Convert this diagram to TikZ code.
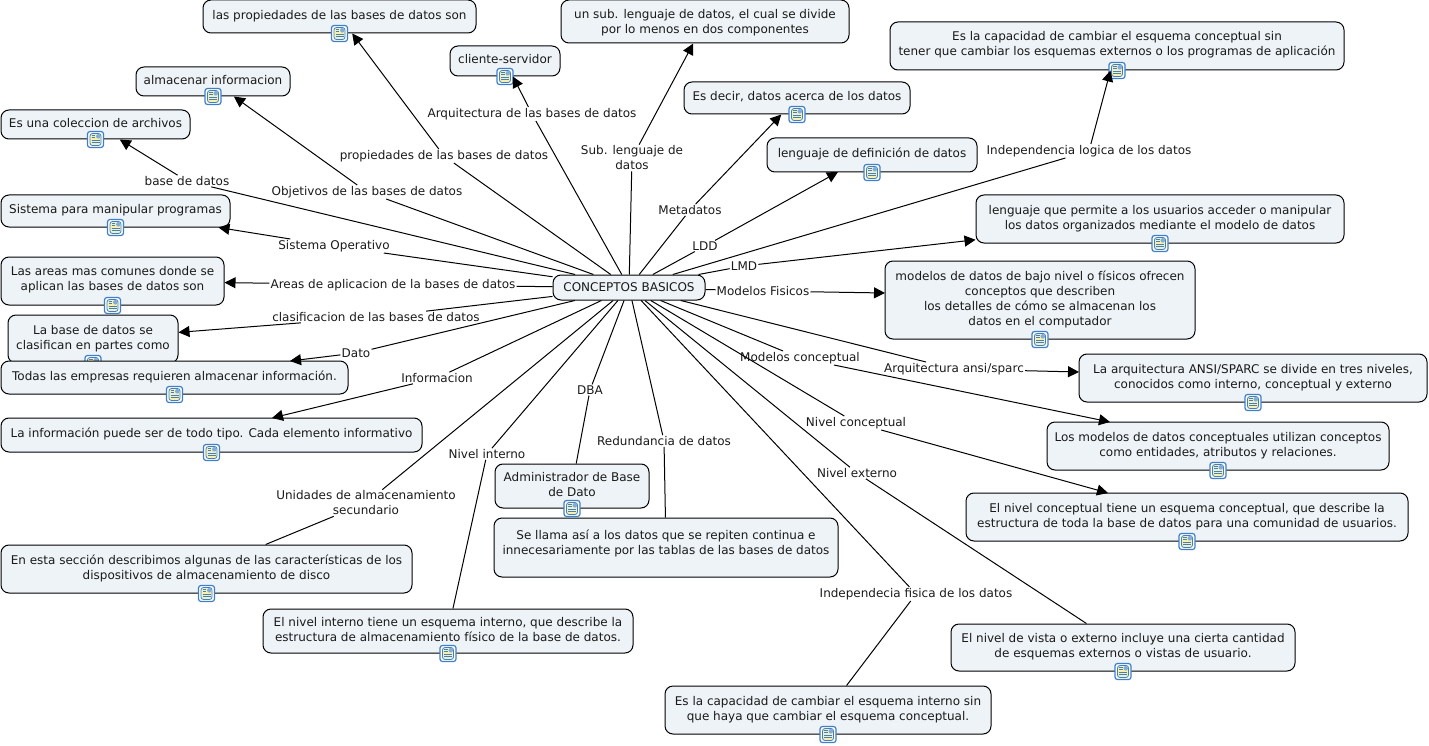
\documentclass[tikz,border=0pt]{standalone}
\usepackage{fontspec}
\setmainfont{DejaVu Sans}
\usetikzlibrary{arrows.meta}

\definecolor{boxfill}{HTML}{EDF3F6}
\definecolor{iconblue}{HTML}{3F7FC8}
\definecolor{iconyellow}{HTML}{F6F0B4}
\definecolor{inktext}{HTML}{1A1A1A}

\newcommand{\boxtext}[2][1pt]{\vbox{\hbox{\begin{tabular}{@{}c@{}}#2\end{tabular}}\kern#1}}
\newcommand{\noteicon}[1]{\node[iconbox] (#1icon) at (#1.south) {};}

\tikzset{
	conceptbox/.style 2 args={draw=black, fill=boxfill, rounded corners=8pt, line width=1pt, inner sep=0pt,
		minimum width=#1, minimum height=#2, text=inktext, font=\fontsize{12}{15}\selectfont},
	linklabel/.style={inner sep=1pt, align=center, text=inktext, font=\fontsize{12}{15}\selectfont},
	linkline/.style={line width=1pt},
	linkarrow/.style={line width=1pt, -{Triangle[length=11pt,width=11pt]}},
	iconbox/.style={draw=iconblue, fill=white, rounded corners=2.5pt, line width=1.2pt, minimum size=16pt, inner sep=0pt,
		path picture={
			\begin{scope}[shift={(path picture bounding box.center)}]
				\draw[fill=iconyellow, line width=0.8pt] (-5.5,-6) rectangle (5.5,6);
				\fill[iconblue!65] (0.5,-5.6) rectangle (5.1,-0.8);
				\draw[line width=1pt] (-4,-4) -- (-0.5,-4) (-4,-1.6) -- (-0.5,-1.6) (-4,0.8) -- (4,0.8) (-4,3.2) -- (4,3.2);
			\end{scope}
		}},
}

\begin{document}
\begin{tikzpicture}[x=1pt, y=-1pt]
	\useasboundingbox (0,0) rectangle (1429,746);
	\begin{scope}
		\node[conceptbox={152}{25}] (centro) at (629,287.5) {\boxtext[-1pt]{CONCEPTOS BASICOS}};

		% columna izquierda
		\node[conceptbox={273}{33}] (propiedades) at (339.5,16.5) {\boxtext[0pt]{las propiedades de las bases de datos son}};
		\node[conceptbox={110}{30}] (cliente) at (505,61) {\boxtext[0pt]{cliente-servidor}};
		\node[conceptbox={154}{29}] (almacenar) at (213,81.5) {\boxtext[0pt]{almacenar informacion}};
		\node[conceptbox={189}{29}] (coleccion) at (95.5,124.5) {\boxtext[0pt]{Es una coleccion de archivos}};
		\node[conceptbox={229}{32}] (sistema) at (115.5,211) {\boxtext{Sistema para manipular programas}};
		\node[conceptbox={223}{48}] (areas) at (112.5,281) {\boxtext[2pt]{Las areas mas comunes donde se\\aplican las bases de datos son}};
		\node[conceptbox={170}{48}] (partes) at (93,339) {\boxtext{La base de datos se\\clasifican en partes como}};
		\noteicon{partes}
		\node[conceptbox={347}{33}] (empresas) at (174.5,377.5) {\boxtext{Todas las empresas requieren almacenar información.}};
		\node[conceptbox={421}{34}] (tipo) at (211.5,435) {\boxtext[2pt]{La información puede ser de todo tipo. Cada elemento informativo}};
		\node[conceptbox={411}{48}] (disco) at (206.5,569) {\boxtext{En esta sección describimos algunas de las características de los\\dispositivos de almacenamiento de disco}};

		% parte central
		\node[conceptbox={288}{43}] (sublenguaje) at (705,21.5) {\boxtext[-2.5pt]{un sub. lenguaje de datos, el cual se divide\\por lo menos en dos componentes}};
		\node[conceptbox={154}{44}] (admin) at (572,486) {\boxtext[0pt]{Administrador de Base\\de Dato}};
		\node[conceptbox={344}{59}] (repetidos) at (666,547.5) {\boxtext[7pt]{Se llama así a los datos que se repiten continua e\\innecesariamente por las tablas de las bases de datos}};
		\node[conceptbox={370}{44}] (interno) at (448,631) {\boxtext[0pt]{El nivel interno tiene un esquema interno, que describe la\\estructura de almacenamiento físico de la base de datos.}};
		\node[conceptbox={326}{48}] (fisica) at (828,710) {\boxtext{Es la capacidad de cambiar el esquema interno sin\\que haya que cambiar el esquema conceptual.}};

		% columna derecha
		\node[conceptbox={226}{32}] (acerca) at (797,98) {\boxtext{Es decir, datos acerca de los datos}};
		\node[conceptbox={210}{34}] (definicion) at (872,155) {\boxtext[0pt]{lenguaje de definición de datos~}};
		\node[conceptbox={454}{48}] (logica) at (1117,46) {\boxtext[2pt]{Es la capacidad de cambiar el esquema conceptual sin\\tener que cambiar los esquemas externos o los programas de aplicación}};
		\node[conceptbox={368}{48}] (manipular) at (1160,219) {\boxtext{lenguaje que permite a los usuarios acceder o manipular\\los datos organizados mediante el modelo de datos}};
		\node[conceptbox={310}{78}] (bajonivel) at (1040,300) {\boxtext[0pt]{modelos de datos de bajo nivel o físicos ofrecen\\conceptos que describen\\los detalles de cómo se almacenan los\\datos en el computador}};
		\node[conceptbox={348}{48}] (niveles) at (1253,378) {\boxtext{La arquitectura ANSI/SPARC se divide en tres niveles,\\conocidos como interno, conceptual y externo}};
		\node[conceptbox={342}{48}] (entidades) at (1218,446) {\boxtext{Los modelos de datos conceptuales utilizan conceptos\\como entidades, atributos y relaciones.}};
		\node[conceptbox={442}{48}] (comunidad) at (1187,517) {\boxtext[0pt]{El nivel conceptual tiene un esquema conceptual, que describe la\\estructura de toda la base de datos para una comunidad de usuarios.}};
		\node[conceptbox={344}{47}] (vista) at (1123,647.5) {\boxtext{El nivel de vista o externo incluye una cierta cantidad\\de esquemas externos o vistas de usuario.}};

		\noteicon{propiedades}
		\noteicon{cliente}
		\noteicon{almacenar}
		\noteicon{coleccion}
		\noteicon{sistema}
		\noteicon{areas}
		\noteicon{empresas}
		\noteicon{tipo}
		\noteicon{disco}
		\noteicon{admin}
		\noteicon{interno}
		\noteicon{fisica}
		\noteicon{acerca}
		\noteicon{definicion}
		\noteicon{logica}
		\noteicon{manipular}
		\noteicon{bajonivel}
		\noteicon{niveles}
		\noteicon{entidades}
		\noteicon{comunidad}
		\noteicon{vista}

		% frases de enlace
		\node[linklabel] (lbase) at (187,181) {base de datos};
		\node[linklabel] (lobjetivos) at (367,192) {Objetivos de las bases de datos};
		\node[linklabel] (lpropiedades) at (444,156) {propiedades de las bases de datos};
		\node[linklabel] (larquitectura) at (532,114) {Arquitectura de las bases de datos};
		\node[linklabel] (lsub) at (632,158) {Sub. lenguaje de\\datos};
		\node[linklabel] (lmeta) at (690,210) {Metadatos};
		\node[linklabel] (lldd) at (705,246) {LDD};
		\node[linklabel] (lindlogica) at (1089,151) {Independencia logica de los datos};
		\node[linklabel] (llmd) at (744,266) {LMD};
		\node[linklabel] (lfisicos) at (763,291) {Modelos Fisicos};
		\node[linklabel] (lsistema) at (334,246) {Sistema Operativo};
		\node[linklabel] (lareas) at (393,285) {Areas de aplicacion de la bases de datos};
		\node[linklabel] (lclasif) at (376,317) {clasificacion de las bases de datos};
		\node[linklabel] (ldato) at (356,353) {Dato};
		\node[linklabel] (linfo) at (437,378) {Informacion};
		\node[linklabel] (ldba) at (590,390) {DBA};
		\node[linklabel] (lredund) at (664,441) {Redundancia de datos};
		\node[linklabel] (lnivint) at (487,454) {Nivel interno};
		\node[linklabel] (lunidades) at (366,503) {Unidades de almacenamiento\\secundario};
		\node[linklabel] (lconceptual) at (800,358) {Modelos conceptual};
		\node[linklabel] (lansi) at (954,369) {Arquitectura ansi/sparc};
		\node[linklabel] (lnivcon) at (856,423) {Nivel conceptual};
		\node[linklabel] (lnivext) at (857,473) {Nivel externo};
		\node[linklabel] (lindfis) at (916,594) {Independecia fisica de los datos};

		% puntos de llegada que no van al centro del concepto
		\coordinate (empresasin) at (290,361);
		\coordinate (tipoin) at (272,418);
		\coordinate (entidadesin) at (1110,422);
		\coordinate (comunidadin) at (1108,493);
		\coordinate (definicionin) at (838,172);
		\coordinate (nivelesin) at (1079,372);
		\coordinate (bajonivelin) at (885,293);

		% del centro a las frases
		\foreach \frase in {lbase,lobjetivos,lpropiedades,larquitectura,lsub,lmeta,lldd,lindlogica,llmd,lfisicos,lsistema,lareas,lclasif,ldato,linfo,ldba,lredund,lnivint,lunidades,lconceptual,lansi,lnivcon,lnivext,lindfis}
			\draw[linkline] (centro) -- (\frase);

		% de las frases a los conceptos
		\draw[linkarrow] (lbase) -- (coleccion);
		\draw[linkarrow] (lobjetivos) -- (almacenar);
		\draw[linkarrow] (lpropiedades) -- (propiedades);
		\draw[linkarrow] (larquitectura) -- (cliente);
		\draw[linkarrow] (lsub) -- (sublenguaje);
		\draw[linkarrow] (lmeta) -- (acerca);
		\draw[linkarrow] (lldd) -- (definicionin);
		\draw[linkarrow] (lindlogica) -- (logica);
		\draw[linkarrow] (llmd) -- (manipular);
		\draw[linkarrow] (lfisicos) -- (bajonivelin);
		\draw[linkarrow] (lsistema) -- (sistema);
		\draw[linkarrow] (lareas) -- (areas);
		\draw[linkarrow] (lclasif) -- (partes);
		\draw[linkarrow] (ldato) -- (empresasin);
		\draw[linkarrow] (linfo) -- (tipoin);
		\draw[linkarrow] (lansi) -- (nivelesin);
		\draw[linkarrow] (lconceptual) -- (entidadesin);
		\draw[linkarrow] (lnivcon) -- (comunidadin);
		\draw[linkline] (ldba) -- (admin);
		\draw[linkline] (lredund) -- (repetidos);
		\draw[linkline] (lnivint) -- (interno);
		\draw[linkline] (lunidades) -- (disco);
		\draw[linkline] (lnivext) -- (vista);
		\draw[linkline] (lindfis) -- (fisica);
	\end{scope}
\end{tikzpicture}
\end{document}
